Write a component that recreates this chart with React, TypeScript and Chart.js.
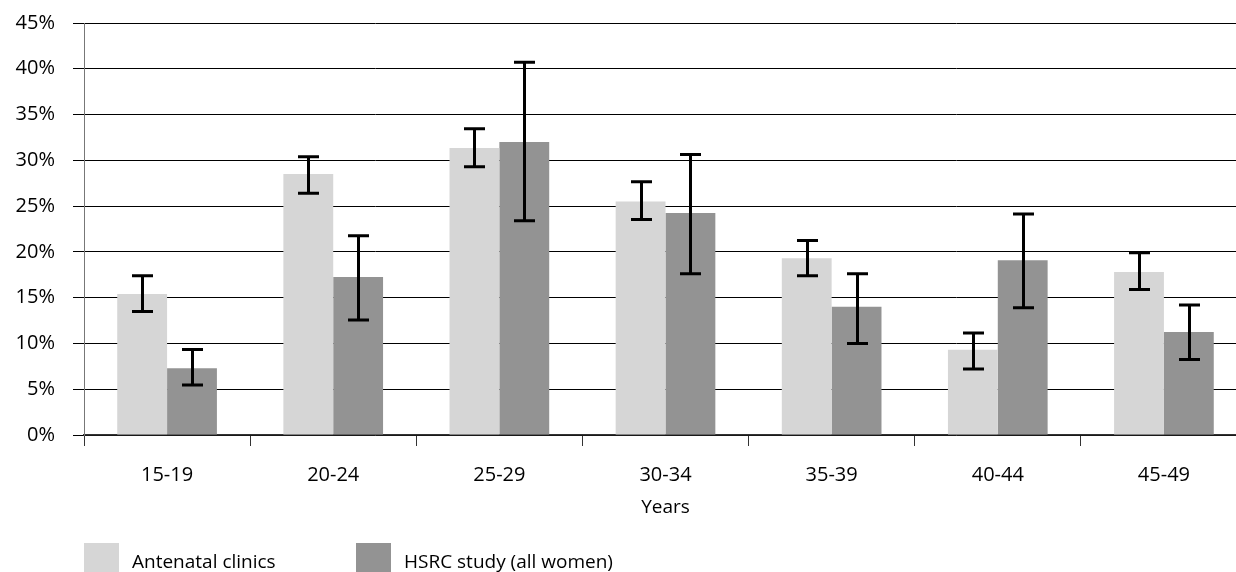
import React, { useEffect, useRef } from 'react';
import { Chart, registerables } from 'chart.js';

Chart.register(...registerables);

const categories = ['15-19', '20-24', '25-29', '30-34', '35-39', '40-44', '45-49'];
const seriesNames = ['Antenatal clinics', 'HSRC study (all women)'];
const antenatal = [15.4, 28.5, 31.35, 25.5, 19.3, 9.3, 17.8];
const antenatalLow = [13.5, 26.4, 29.3, 23.55, 17.4, 7.2, 15.9];
const antenatalHigh = [17.4, 30.4, 33.45, 27.65, 21.25, 11.15, 19.9];
const hsrc = [7.3, 17.25, 32.0, 24.25, 14.0, 19.1, 11.25];
const hsrcLow = [5.45, 12.55, 23.4, 17.6, 10.0, 13.9, 8.25];
const hsrcHigh = [9.35, 21.75, 40.7, 30.65, 17.6, 24.15, 14.2];
const yMin = 0;
const yMax = 45;
const yStep = 5;
const xTitle = 'Years';

const colors = ['#d6d6d6', '#939393'];
const FONT = '"Open Sans", "DejaVu Sans", sans-serif';

const errLows = [antenatalLow, hsrcLow];
const errHighs = [antenatalHigh, hsrcHigh];

const errorBarPlugin = {
  id: 'errorBars',
  afterDatasetsDraw(chart: any) {
    const { ctx } = chart;
    const y = chart.scales.y;
    chart.data.datasets.forEach((_ds: any, di: number) => {
      const meta = chart.getDatasetMeta(di);
      meta.data.forEach((bar: any, i: number) => {
        const x = Math.round(bar.x) + 0.5;
        const yl = y.getPixelForValue(errLows[di][i]);
        const yh = y.getPixelForValue(errHighs[di][i]);
        ctx.save();
        ctx.strokeStyle = '#000';
        ctx.lineWidth = 3;
        ctx.lineCap = 'butt';
        ctx.beginPath();
        ctx.moveTo(x, yh);
        ctx.lineTo(x, yl);
        ctx.moveTo(x - 10.5, yh);
        ctx.lineTo(x + 10.5, yh);
        ctx.moveTo(x - 10.5, yl);
        ctx.lineTo(x + 10.5, yl);
        ctx.stroke();
        ctx.restore();
      });
    });
  },
};

const legendPlugin = {
  id: 'customLegend',
  afterDraw(chart: any) {
    const { ctx, chartArea } = chart;
    const top = chartArea.bottom + 108;
    const offsets = [0, 272];
    ctx.save();
    ctx.font = `19px ${FONT}`;
    ctx.textBaseline = 'alphabetic';
    ctx.textAlign = 'left';
    chart.data.datasets.forEach((ds: any, i: number) => {
      const x = chartArea.left + offsets[i];
      ctx.fillStyle = ds.backgroundColor;
      ctx.fillRect(x, top, 35, 40);
      ctx.fillStyle = '#000';
      ctx.fillText(ds.label, x + 48, top + 25);
    });
    ctx.restore();
  },
};

export default function App() {
  const ref = useRef<HTMLCanvasElement>(null);

  useEffect(() => {
    if (!ref.current) return;
    Chart.defaults.font.family = FONT;
    Chart.defaults.font.size = 19;
    Chart.defaults.color = '#000';
    const chart = new Chart(ref.current, {
      type: 'bar',
      data: {
        labels: categories,
        datasets: [
          { label: seriesNames[0], data: antenatal, backgroundColor: colors[0] },
          { label: seriesNames[1], data: hsrc, backgroundColor: colors[1] },
        ],
      },
      options: {
        responsive: false,
        animation: false,
        devicePixelRatio: 1,
        layout: { padding: { top: 23, right: 13, bottom: 45, left: 0 } },
        datasets: {
          bar: { categoryPercentage: 0.6, barPercentage: 1.0 },
        },
        plugins: {
          legend: { display: false },
          tooltip: { enabled: false },
        },
        scales: {
          x: {
            offset: true,
            grid: {
              offset: true,
              drawOnChartArea: false,
              drawTicks: true,
              tickLength: 11,
              color: '#333',
              lineWidth: 1,
            },
            border: { display: true, color: '#333', width: 1.5 },
            ticks: { padding: 17, font: { size: 20 }, color: '#000' },
            title: { display: true, text: xTitle, font: { size: 19 }, color: '#000', padding: { top: 0, bottom: 8 } },
            afterFit: (scale: any) => {
              scale.height = 92;
            },
          },
          y: {
            min: yMin,
            max: yMax,
            grid: { color: '#000', lineWidth: 1, tickLength: 11, drawTicks: true },
            border: { display: true, color: '#777', width: 1 },
            ticks: {
              stepSize: yStep,
              padding: 18,
              font: { size: 20 },
              color: '#000',
              callback: (v: any) => `${v}%`,
            },
            afterFit: (scale: any) => {
              scale.width = 84;
              scale.paddingTop = 12;
              scale.paddingBottom = 12;
            },
          },
        },
      },
      plugins: [errorBarPlugin, legendPlugin],
    });
    return () => chart.destroy();
  }, []);

  return (
    <div style={{ position: 'fixed', left: 0, top: 0, width: 1236, height: 572, overflow: 'hidden', background: '#fff' }}>
      <canvas ref={ref} width={1260} height={572} style={{ display: 'block', width: 1260, height: 572 }} />
    </div>
  );
}
